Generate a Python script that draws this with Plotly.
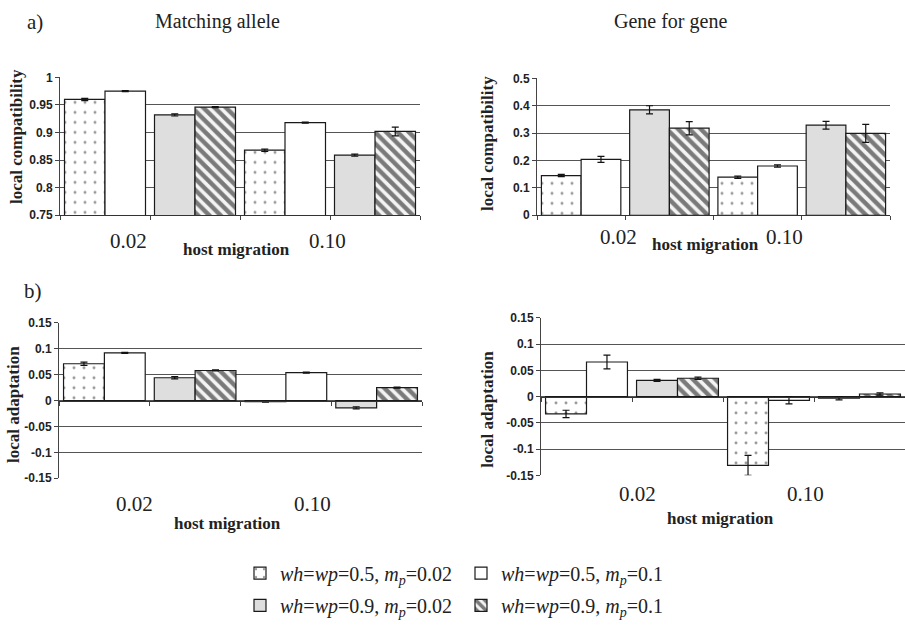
import plotly.graph_objects as go

W, H = 905, 629

# ---------------- data ----------------
host_migration = ["0.02", "0.10"]
wh_groups = ["wh=wp=0.5", "wh=wp=0.9"]
series_names = [
    "<i>wh</i>=<i>wp</i>=0.5, <i>m</i><sub><i>p</i></sub>=0.02",
    "<i>wh</i>=<i>wp</i>=0.5, <i>m</i><sub><i>p</i></sub>=0.1",
    "<i>wh</i>=<i>wp</i>=0.9, <i>m</i><sub><i>p</i></sub>=0.02",
    "<i>wh</i>=<i>wp</i>=0.9, <i>m</i><sub><i>p</i></sub>=0.1",
]
series_wh = [0, 0, 1, 1]  # which wh group each series belongs to

# a) Matching allele – local compatibility  (per series: [m=0.02, m=0.10])
ma_compat = [[0.960, 0.868], [0.975, 0.918], [0.932, 0.859], [0.946, 0.902]]
ma_compat_err = [[0.002, 0.002], [0.001, 0.001], [0.002, 0.002], [0.001, 0.008]]
# a) Gene for gene – local compatibility
gfg_compat = [[0.145, 0.139], [0.204, 0.180], [0.385, 0.329], [0.318, 0.299]]
gfg_compat_err = [[0.004, 0.004], [0.011, 0.004], [0.015, 0.014], [0.024, 0.033]]
# b) Matching allele – local adaptation
ma_adapt = [[0.071, -0.002], [0.092, 0.054], [0.044, -0.014], [0.058, 0.025]]
ma_adapt_err = [[0.003, 0.001], [0.001, 0.001], [0.002, 0.002], [0.001, 0.001]]
# b) Gene for gene – local adaptation
gfg_adapt = [[-0.033, -0.131], [0.066, -0.007], [0.031, -0.003], [0.035, 0.005]]
gfg_adapt_err = [[0.007, 0.019], [0.013, 0.007], [0.002, 0.003], [0.002, 0.002]]

compat_ma_ticks = [0.75, 0.8, 0.85, 0.9, 0.95, 1.0]
compat_ma_ticktext = ["0.75", "0.8", "0.85", "0.9", "0.95", "1"]
compat_gfg_ticks = [0, 0.1, 0.2, 0.3, 0.4, 0.5]
compat_gfg_ticktext = ["0", "0.1", "0.2", "0.3", "0.4", "0.5"]
adapt_ticks = [-0.15, -0.1, -0.05, 0, 0.05, 0.1, 0.15]
adapt_ticktext = ["-0.15", "-0.1", "-0.05", "0", "0.05", "0.1", "0.15"]

# ---------------- helpers ----------------
def px(x):
    return x / W

def py(y):
    return 1 - y / H

categories = [f"{m} | {g}" for m in host_migration for g in wh_groups]

styles = [
    dict(color="white", pattern=dict(shape=".", fgcolor="#333", bgcolor="white", size=10, solidity=0.07)),
    dict(color="white"),
    dict(color="#dedede"),
    dict(color="#f4f4f4", pattern=dict(shape="\\", fgcolor="#000", bgcolor="#f4f4f4", size=8, solidity=0.55)),
]
offset_groups = ["L", "R", "L", "R"]

panels = [
    dict(vals=ma_compat, err=ma_compat_err, xd=[px(60), px(420)], yd=[py(213), py(72)],
         rng=[0.75, 1.0], tv=compat_ma_ticks, tt=compat_ma_ticktext, zero=False),
    dict(vals=gfg_compat, err=gfg_compat_err, xd=[px(537), px(890)], yd=[py(213), py(73)],
         rng=[0, 0.5], tv=compat_gfg_ticks, tt=compat_gfg_ticktext, zero=False),
    dict(vals=ma_adapt, err=ma_adapt_err, xd=[px(59), px(422)], yd=[py(482), py(323)],
         rng=[-0.15, 0.15], tv=adapt_ticks, tt=adapt_ticktext, zero=True),
    dict(vals=gfg_adapt, err=gfg_adapt_err, xd=[px(541), px(905)], yd=[py(479), py(318)],
         rng=[-0.15, 0.15], tv=adapt_ticks, tt=adapt_ticktext, zero=True),
]

fig = go.Figure()
tick_font = dict(family="Liberation Sans, Arial", size=12, color="#222", weight="bold")

for i, p in enumerate(panels):
    n = "" if i == 0 else str(i + 1)
    xref, yref = "x" + n, "y" + n
    for s in range(4):
        xs = [f"{m} | {wh_groups[series_wh[s]]}" for m in host_migration]
        fig.add_trace(go.Bar(
            x=xs, y=p["vals"][s],
            error_y=dict(type="data", array=p["err"][s], color="#111", thickness=1.2, width=3.5),
            marker=dict(line=dict(color="#1a1a1a", width=1.2), **styles[s]),
            offsetgroup=offset_groups[s],
            name=series_names[s],
            xaxis=xref, yaxis=yref,
            showlegend=(i == 0),
            legend="legend" if s < 2 else "legend2",
            legendgroup=str(s),
        ))
    xa = dict(domain=p["xd"], type="category", categoryorder="array", categoryarray=categories,
              range=[-0.5, 3.5], showticklabels=False, ticks="outside", tickson="boundaries",
              ticklen=4, tickcolor="#444", showline=True, linecolor="#333", linewidth=1,
              showgrid=False, zeroline=False, fixedrange=True)
    if p["zero"]:
        frac = (0 - p["rng"][0]) / (p["rng"][1] - p["rng"][0])
        xa.update(anchor="free", position=p["yd"][0] + frac * (p["yd"][1] - p["yd"][0]))
    else:
        xa.update(anchor=yref)
    ya = dict(domain=p["yd"], anchor=xref, range=p["rng"], tickvals=p["tv"], ticktext=p["tt"],
              showgrid=True, gridcolor="#555", gridwidth=1, showline=True, linecolor="#444",
              linewidth=1, ticks="outside", ticklen=4, tickcolor="#444", tickfont=tick_font,
              zeroline=False, fixedrange=True)
    fig.layout["xaxis" + n] = xa
    fig.layout["yaxis" + n] = ya

serif = "Liberation Serif, Times New Roman"
ann = []
def A(text, x, y, size, bold=False, angle=0, xanchor="center", xr="paper", yr="paper", xshift=0):
    ann.append(dict(text=("<b>%s</b>" % text) if bold else text, x=x, y=y, xref=xr, yref=yr,
                    xanchor=xanchor, yanchor="middle", showarrow=False, textangle=angle,
                    xshift=xshift, font=dict(family=serif, size=size, color="#222")))

A("a)", px(25), py(15), 21, xanchor="left")
A("b)", px(22), py(290), 21, xanchor="left")
A("Matching allele", px(217), py(15), 20)
A("Gene for gene", px(670), py(15), 20)

ytitles = ["local compatibility", "local compatibility", "local adaptation", "local adaptation"]
ytitle_pos = [(16, 133), (488, 140), (14, 407), (488, 412)]
for t, (x, y) in zip(ytitles, ytitle_pos):
    A(t, px(x), py(y), 17, bold=True, angle=-90)

hm_pos = [(236, 248), (705, 243), (227, 528), (720, 523)]
for x, y in hm_pos:
    A("host migration", px(x), py(y), 17, bold=True)

# category labels: (panel axis suffix, y pixel, xshifts)
lab_cfg = [("", 239, (-22, -3)), ("2", 235, (-7, -17)), ("3", 508, (-15, -19)), ("4", 498, (5, -9))]
for suf, ypx, shifts in lab_cfg:
    for k, m in enumerate(host_migration):
        A(m, 0.5 + 2 * k, py(ypx), 21, xr="x" + suf, yr="paper", xshift=shifts[k])

leg_common = dict(orientation="h", xanchor="left", yanchor="middle",
                  entrywidth=176, entrywidthmode="pixels", itemwidth=30,
                  font=dict(family=serif, size=20, color="#222"), bgcolor="rgba(0,0,0,0)")
fig.update_layout(
    width=W, height=H, margin=dict(l=0, r=0, t=0, b=0),
    paper_bgcolor="white", plot_bgcolor="white",
    barmode="group", bargap=0.1, bargroupgap=0,
    annotations=ann,
    legend=dict(x=px(240), y=py(579), **leg_common),
    legend2=dict(x=px(240), y=py(612), **leg_common),
)

fig.write_html("out.html", config={"displayModeBar": False},
               post_script="document.body.style.margin='0px';")
